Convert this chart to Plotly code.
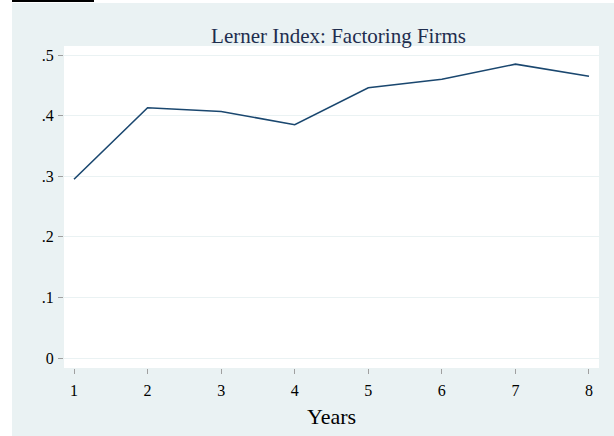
import plotly.graph_objects as go

years = [1, 2, 3, 4, 5, 6, 7, 8]
lerner = [0.295, 0.413, 0.407, 0.385, 0.446, 0.460, 0.485, 0.465]
y_ticks = [0, 0.1, 0.2, 0.3, 0.4, 0.5]
y_labels = ["0", ".1", ".2", ".3", ".4", ".5"]
x_ticks = years
title_text = "Lerner Index: Factoring Firms"
x_title = "Years"

W, H = 614, 436
ML, MR, MT, MB = 64, 15, 46, 68
PW, PH = W - ML - MR, H - MT - MB
BG = "#EAF2F3"
SERIF = "Liberation Serif, Times New Roman, serif"


def px_x(px):
    return (px - ML) / PW


def px_y(py):
    return (H - MB - py) / PH


fig = go.Figure()
fig.add_trace(go.Scatter(
    x=years, y=lerner, mode="lines",
    line=dict(color="#1a476f", width=1.6),
    showlegend=False, hoverinfo="skip",
))

fig.update_layout(
    width=W, height=H,
    margin=dict(l=ML, r=MR, t=MT, b=MB, pad=0),
    paper_bgcolor=BG,
    plot_bgcolor="white",
    font=dict(family=SERIF, color="black", size=16),
    title=dict(
        text=title_text, font=dict(family=SERIF, size=21, color="#1e2d4e"),
        x=338.5 / W, xanchor="center", xref="container",
        y=1 - 35.6 / H, yanchor="middle", yref="container",
    ),
    xaxis=dict(
        range=[0.864, 8.136], tickvals=x_ticks, ticktext=[str(v) for v in x_ticks],
        showgrid=False, zeroline=False, showline=False,
        ticks="outside", ticklen=5, tickwidth=1, tickcolor="#a0a0a0",
        tickfont=dict(family=SERIF, size=16, color="black"),
        ticklabelstandoff=3,
        fixedrange=True,
    ),
    yaxis=dict(
        range=[-0.0165, 0.515], tickvals=y_ticks, ticktext=y_labels,
        showgrid=True, gridcolor=BG, gridwidth=1,
        zeroline=False, showline=False,
        ticks="outside", ticklen=5, tickwidth=1, tickcolor="#a0a0a0",
        tickfont=dict(family=SERIF, size=16, color="black"),
        ticklabelstandoff=1,
        fixedrange=True,
    ),
    annotations=[dict(
        text=x_title, xref="paper", yref="paper",
        x=0.5, y=px_y(416), xanchor="center", yanchor="middle",
        showarrow=False, font=dict(family=SERIF, size=22, color="black"),
    )],
    shapes=[
        dict(type="rect", xref="paper", yref="paper",
             x0=px_x(-5), x1=px_x(12), y0=px_y(H + 5), y1=px_y(-5),
             fillcolor="white", line=dict(width=0), layer="above"),
        dict(type="rect", xref="paper", yref="paper",
             x0=px_x(-5), x1=px_x(W + 5), y0=px_y(3), y1=px_y(-5),
             fillcolor="white", line=dict(width=0), layer="above"),
        dict(type="rect", xref="paper", yref="paper",
             x0=px_x(12), x1=px_x(94), y0=px_y(2), y1=px_y(-5),
             fillcolor="black", line=dict(width=0), layer="above"),
    ],
)

fig.write_html(
    "out.html",
    config={"displayModeBar": False},
    post_script="document.body.style.margin='0';document.body.style.overflow='hidden';",
)
